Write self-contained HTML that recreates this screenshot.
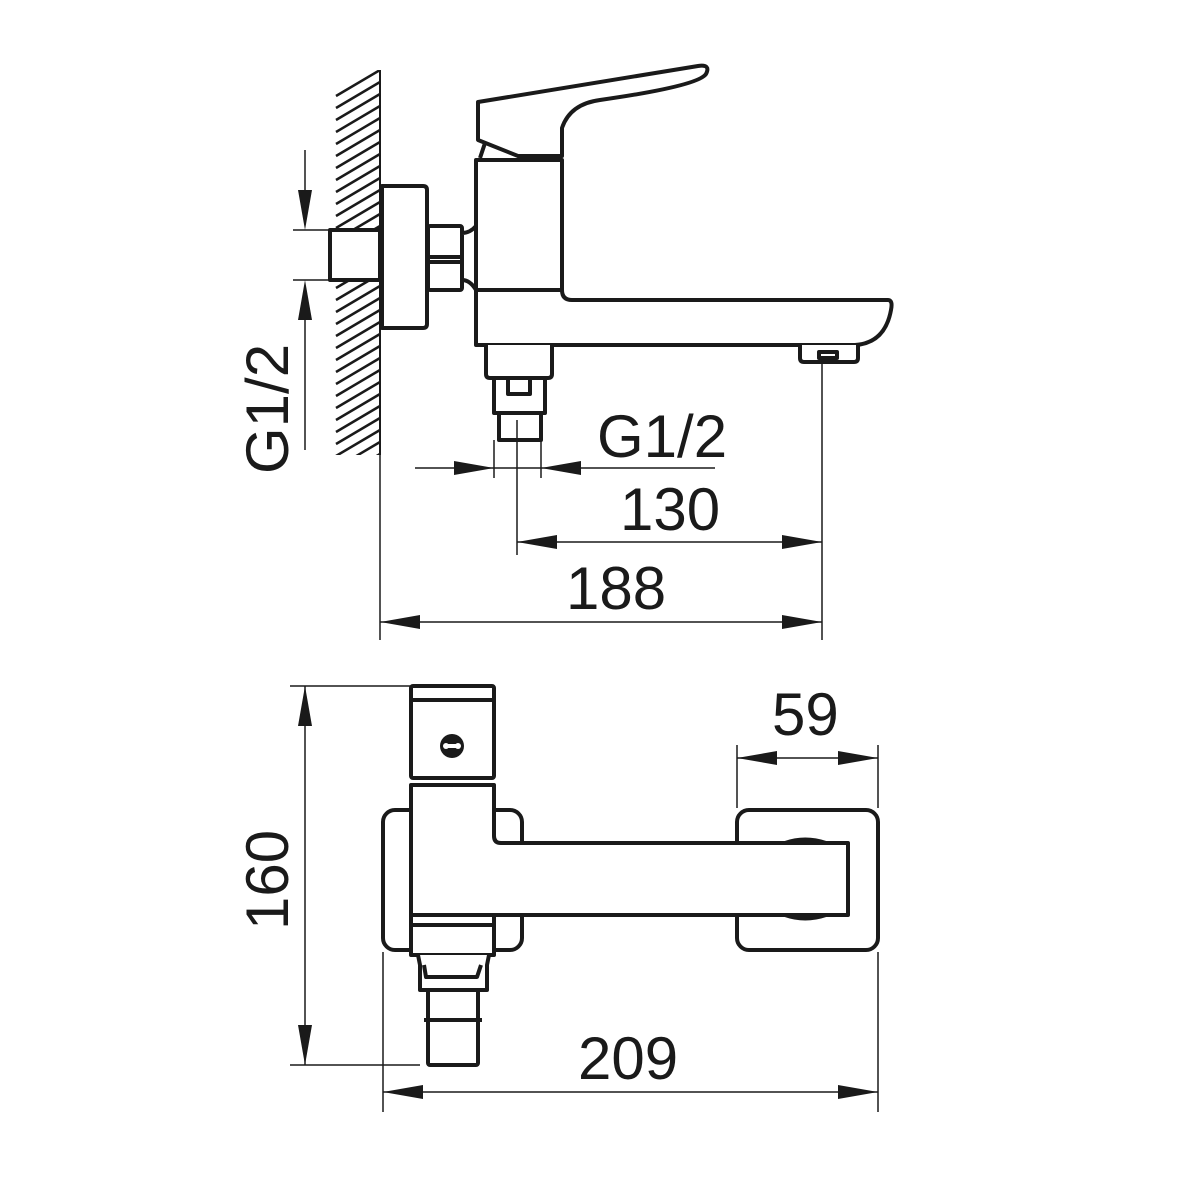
<!DOCTYPE html>
<html><head><style>
html,body{margin:0;padding:0;background:#fff;}
svg{display:block;}
text{font-family:"Liberation Sans",sans-serif;font-size:60px;fill:#1a1a1a;}
</style></head><body>
<svg width="1200" height="1200" viewBox="0 0 1200 1200" xmlns="http://www.w3.org/2000/svg">
<defs>
<clipPath id="hc"><rect x="334" y="70" width="46" height="385"/></clipPath>
</defs>
<line x1="380" y1="70" x2="380" y2="455" stroke="#1a1a1a" stroke-width="2"/>
<g clip-path="url(#hc)" stroke="#1a1a1a" stroke-width="2.5">
<path d="M336 96 L380 70 M336 108 L380 82 M336 120 L380 94 M336 132 L380 106 M336 144 L380 118 M336 156 L380 130 M336 168 L380 142 M336 180 L380 154 M336 192 L380 166 M336 204 L380 178 M336 216 L380 190 M336 228 L380 202 M336 240 L380 214 M336 252 L380 226 M336 264 L380 238 M336 276 L380 250 M336 288 L380 262 M336 300 L380 274 M336 312 L380 286 M336 324 L380 298 M336 336 L380 310 M336 348 L380 322 M336 360 L380 334 M336 372 L380 346 M336 384 L380 358 M336 396 L380 370 M336 408 L380 382 M336 420 L380 394 M336 432 L380 406 M336 444 L380 418 M336 456 L380 430 M336 468 L380 442 M336 480 L380 454"/>
</g>
<g fill="#fff" stroke="#1a1a1a" stroke-width="4" stroke-linejoin="round">
<rect x="330" y="230" width="50" height="50"/>
<path d="M382 186 H423 Q427 186 427 190 V324 Q427 328 423 328 H382 Z"/>
<rect x="428" y="226" width="34" height="64" rx="2"/>
<line x1="428" y1="257" x2="462" y2="257"/>
<line x1="428" y1="262" x2="462" y2="262"/>
<path d="M462 268 V233 Q470 233 476 226"/>
<path d="M476 184 V160 H562 V290 H476 Z"/>
<path d="M476 290 H562 Q562 300 572 300 H888 Q893 300 891 310 Q885 343 855 345 H476 Z"/>
<path d="M462 280 Q470 280 476 290"/>
<path d="M478 102 L698 66 Q711 64 706 74 Q698 86 600 100 Q570 104 562 128 V156 H518 L478 140 Z"/>
<path d="M485 143 L480 158"/>
<path d="M486 345 V374 Q486 378 490 378 H548 Q552 378 552 374 V345"/>
<rect x="494" y="378" width="51" height="35"/>
<rect x="508" y="378" width="22" height="16"/>
<rect x="499" y="413" width="42" height="27"/>
<path d="M800 345 V358 Q800 362 804 362 H854 Q858 362 858 358 V345"/>
<rect x="819" y="352" width="18" height="6"/>
</g>
<g stroke="#1a1a1a" stroke-width="1.5" fill="none">
<line x1="293" y1="230" x2="330" y2="230"/>
<line x1="293" y1="280" x2="330" y2="280"/>
<line x1="305" y1="150" x2="305" y2="200"/>
<line x1="305" y1="310" x2="305" y2="450"/>
<line x1="380" y1="455" x2="380" y2="640"/>
<line x1="822" y1="360" x2="822" y2="640"/>
<line x1="517" y1="420" x2="517" y2="555"/>
<line x1="494" y1="440" x2="494" y2="478"/>
<line x1="541" y1="440" x2="541" y2="478"/>
<line x1="415" y1="468" x2="715" y2="468"/>
<line x1="517" y1="542" x2="822" y2="542"/>
<line x1="380" y1="622" x2="822" y2="622"/>
<line x1="290" y1="686" x2="410" y2="686"/>
<line x1="290" y1="1065" x2="420" y2="1065"/>
<line x1="305" y1="686" x2="305" y2="1065"/>
<line x1="737" y1="745" x2="737" y2="808"/>
<line x1="878" y1="745" x2="878" y2="808"/>
<line x1="737" y1="758" x2="878" y2="758"/>
<line x1="383" y1="952" x2="383" y2="1112"/>
<line x1="878" y1="952" x2="878" y2="1112"/>
<line x1="383" y1="1092" x2="878" y2="1092"/>
</g>
<g fill="#1a1a1a">
<polygon points="305,230 298,190 312,190"/>
<polygon points="305,280 298,320 312,320"/>
<polygon points="494,468 454,461 454,475"/>
<polygon points="541,468 581,461 581,475"/>
<polygon points="517,542 557,535 557,549"/>
<polygon points="822,542 782,535 782,549"/>
<polygon points="380,622 420,615 420,629"/>
<polygon points="822,622 782,615 782,629"/>
<polygon points="305,686 298,726 312,726"/>
<polygon points="305,1065 298,1025 312,1025"/>
<polygon points="737,758 777,751 777,765"/>
<polygon points="878,758 838,751 838,765"/>
<polygon points="383,1092 423,1085 423,1099"/>
<polygon points="878,1092 838,1085 838,1099"/>
</g>
<g fill="#fff" stroke="#1a1a1a" stroke-width="4" stroke-linejoin="round">
<rect x="383" y="810" width="139" height="140" rx="12"/>
<rect x="737" y="810" width="141" height="140" rx="12"/>
<path d="M785 843 Q805 836 826 843 Z M785 915 Q805 922 826 915 Z" fill="#1a1a1a"/>
<rect x="411" y="686" width="83" height="92" rx="2"/>
<line x1="411" y1="700" x2="494" y2="700"/>
<path d="M411 785 H494 V836 Q494 843 501 843 H848 V915 H411 Z"/>
<rect x="411" y="915" width="83" height="40"/>
<line x1="411" y1="925" x2="494" y2="925"/>
<path d="M418 955 L420 965 V990 H487 V965 L489 955"/>
<path d="M424 965 L426 977 H477 L481 965"/>
<rect x="428" y="990" width="50" height="75" rx="2"/>
<line x1="424" y1="1020" x2="482" y2="1020"/>
</g>
<circle cx="452" cy="746" r="12" fill="#1a1a1a"/>
<rect x="446" y="744" width="12" height="4" fill="#fff"/>
<circle cx="446" cy="746" r="3" fill="#fff"/>
<circle cx="458" cy="746" r="3" fill="#fff"/>
<text x="597" y="457">G1/2</text>
<text x="620" y="530">130</text>
<text x="566" y="609">188</text>
<text x="772" y="735">59</text>
<text x="578" y="1079">209</text>
<text transform="translate(288,474) rotate(-90)">G1/2</text>
<text transform="translate(288,930) rotate(-90)">160</text>
</svg>
</body></html>
